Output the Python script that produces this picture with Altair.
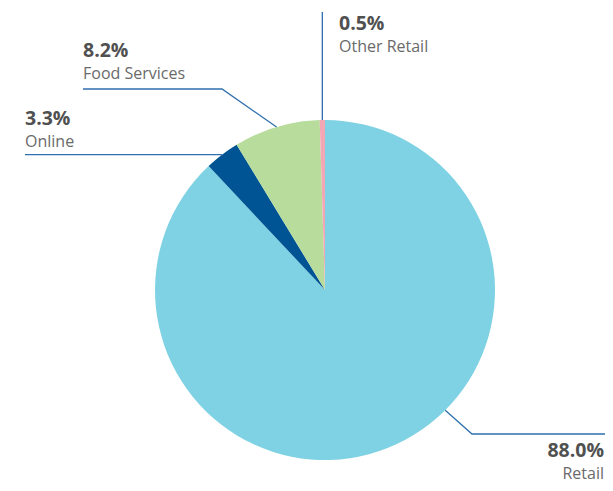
import math
import altair as alt
import pandas as pd

# ---- data ----
categories = ["Retail", "Online", "Food Services", "Other Retail"]
shares = [88.0, 3.3, 8.2, 0.5]
pct_labels = ["88.0%", "3.3%", "8.2%", "0.5%"]
colors = ["#7fd2e3", "#005494", "#b7dc9c", "#f3a7b5"]

# ---- layout (pixel positions in the chart area) ----
W, H = 597, 475
CX, CY, R = 317, 282, 170
anchor_angle = [135, None, None, None]
leader_path = [
    [(464, 426), (597, 426)],
    [(17, None)],
    [(214, 81), (75, 81)],
    [(None, 4)],
]
text_pos = [
    (596, 449, 471, "right"),
    (17, 117, 139, "left"),
    (75, 49, 71, "left"),
    (331, 22, 44, "left"),
]

df = pd.DataFrame({"cat": categories, "share": shares, "order": list(range(len(categories)))})

total = sum(shares)
rows = []
start = 0.0
for i, s in enumerate(shares):
    span = s / total * 360
    ang = anchor_angle[i] if anchor_angle[i] is not None else start + span / 2
    start += span
    a = math.radians(ang)
    px = CX + R * math.sin(a)
    py = CY - R * math.cos(a)
    pts = [(px, py)]
    for (x, y) in leader_path[i]:
        pts.append((px if x is None else x, py if y is None else y))
    for j, (x, y) in enumerate(pts):
        rows.append({"seg": categories[i], "k": j, "x": float(x), "y": float(y)})
lines_df = pd.DataFrame(rows)

text_rows = []
for i in range(len(categories)):
    x, y1, y2, al = text_pos[i]
    text_rows.append({"t": pct_labels[i], "x": x, "y": y1, "kind": "pct", "side": al})
    text_rows.append({"t": categories[i], "x": x, "y": y2, "kind": "name", "side": al})
text_df = pd.DataFrame(text_rows)

xs = alt.Scale(domain=[0, W], range=[0, W], nice=False, zero=False)
ys = alt.Scale(domain=[0, H], range=[0, H], nice=False, zero=False)

pie = alt.Chart(df).mark_arc(radius=R).encode(
    theta=alt.Theta("share:Q", stack=True),
    order=alt.Order("order:Q"),
    color=alt.Color("cat:N", scale=alt.Scale(domain=categories, range=colors), legend=None),
    x=alt.value(CX),
    y=alt.value(CY),
)

leaders = alt.Chart(lines_df).mark_line(color="#2f6fae", strokeWidth=1.3).encode(
    x=alt.X("x:Q", scale=xs, axis=None),
    y=alt.Y("y:Q", scale=ys, axis=None),
    detail="seg:N",
    order="k:Q",
)

def text_layer(kind, align, size, weight, color):
    return alt.Chart(text_df).transform_filter(
        (alt.datum.kind == kind) & (alt.datum.side == align)
    ).mark_text(
        align=align, baseline="alphabetic", font="Open Sans",
        fontSize=size, fontWeight=weight, color=color,
    ).encode(
        x=alt.X("x:Q", scale=xs, axis=None),
        y=alt.Y("y:Q", scale=ys, axis=None),
        text=alt.Text("t:N"),
    )

texts = [
    text_layer("pct", "left", 19.5, "bold", "#505050"),
    text_layer("pct", "right", 19.5, "bold", "#505050"),
    text_layer("name", "left", 16, "normal", "#6a6a6a"),
    text_layer("name", "right", 16, "normal", "#6a6a6a"),
]

chart = alt.layer(pie, leaders, *texts).properties(
    width=W, height=H, padding=0, autosize="none",
).configure_view(stroke=None)

chart.save("out.html", embed_options={"renderer": "svg", "actions": False})
